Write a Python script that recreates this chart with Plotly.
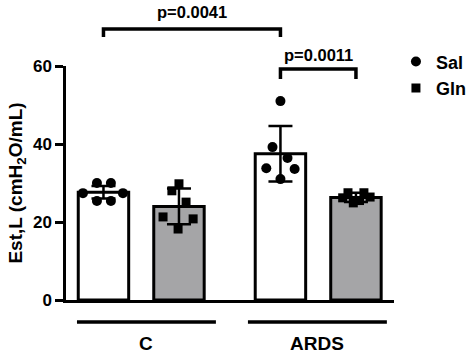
import plotly.graph_objects as go

# ---- data ----
groups = ["C", "ARDS"]
treatments = ["Sal", "Gln"]
means_sal = [27.6, 37.5]
means_gln = [24.0, 26.3]
sd_sal = [1.6, 7.1]
sd_gln = [4.6, 1.2]

pts_sal_C = [30.0, 30.0, 27.4, 27.4, 25.4, 25.4]
pts_gln_C = [29.8, 28.0, 25.1, 21.3, 20.8, 18.2]
pts_sal_ARDS = [51.0, 39.2, 36.4, 33.8, 33.6, 31.0]
pts_gln_ARDS = [27.5, 27.5, 26.2, 26.4, 24.9, 25.5]

# horizontal spread of dots (fraction of a group slot)
jit_sal_C = [-0.037, 0.042, -0.116, 0.110, -0.037, 0.042]
jit_gln_C = [0.0, -0.040, 0.040, -0.090, 0.080, -0.005]
jit_sal_ARDS = [0.0, -0.045, 0.040, -0.080, 0.080, 0.0]
jit_gln_ARDS = [-0.045, 0.045, -0.075, 0.080, -0.015, 0.020]

p_values = ["p=0.0041", "p=0.0011"]

# ---- layout helpers ----
gpos = [0, 1]          # group centers on numeric x axis
off = 0.2133           # bar offset from group center
bw = 0.285             # bar width

x_sal = [g - off for g in gpos]
x_gln = [g + off for g in gpos]

BOLD = "Liberation Sans"
fig = go.Figure()

fig.add_trace(go.Bar(
    x=x_sal, y=means_sal, width=bw,
    marker=dict(color="white", line=dict(color="black", width=3)),
    error_y=dict(type="data", array=sd_sal, color="black", thickness=2.5, width=12),
    showlegend=False, hoverinfo="skip"))
fig.add_trace(go.Bar(
    x=x_gln, y=means_gln, width=bw,
    marker=dict(color="#a5a5a7", line=dict(color="black", width=3)),
    error_y=dict(type="data", array=sd_gln, color="black", thickness=2.5, width=12),
    showlegend=False, hoverinfo="skip"))

sal_x = [x_sal[0] + j for j in jit_sal_C] + [x_sal[1] + j for j in jit_sal_ARDS]
sal_y = pts_sal_C + pts_sal_ARDS
gln_x = [x_gln[0] + j for j in jit_gln_C] + [x_gln[1] + j for j in jit_gln_ARDS]
gln_y = pts_gln_C + pts_gln_ARDS

fig.add_trace(go.Scatter(
    x=sal_x, y=sal_y, mode="markers", name=treatments[0],
    marker=dict(symbol="circle", size=10, color="black"), cliponaxis=False))
fig.add_trace(go.Scatter(
    x=gln_x, y=gln_y, mode="markers", name=treatments[1],
    marker=dict(symbol="square", size=9, color="black"), cliponaxis=False))

# ---- significance brackets ----
lw = 3.5
def bracket(x0, x1, ytop, ybot):
    fig.add_shape(type="path", xref="x", yref="paper",
                  path=f"M {x0},{ybot} L {x0},{ytop} L {x1},{ytop} L {x1},{ybot}",
                  line=dict(color="black", width=lw))

bracket(x_sal[0], x_sal[1], 1.158, 1.124)
bracket(x_sal[1], x_gln[1], 0.987, 0.944)
fig.add_annotation(x=(x_sal[0] + x_sal[1]) / 2, y=1.231, xref="x", yref="paper",
                   xanchor="center", yanchor="middle",
                   text=f"<b>{p_values[0]}</b>", showarrow=False,
                   font=dict(family=BOLD, size=16.5, color="black"))
fig.add_annotation(x=(x_sal[1] + x_gln[1]) / 2, y=1.047, xref="x", yref="paper",
                   xanchor="center", yanchor="middle",
                   text=f"<b>{p_values[1]}</b>", showarrow=False,
                   font=dict(family=BOLD, size=16.5, color="black"))

# ---- group lines and labels ----
glines = [(-0.363, 0.422), (0.603, 1.388)]
for (a, b), name in zip(glines, groups):
    fig.add_shape(type="line", xref="x", yref="paper", x0=a, x1=b, y0=-0.094, y1=-0.094,
                  line=dict(color="black", width=3.5))
    fig.add_annotation(x=(a + b) / 2, y=-0.184, xref="x", yref="paper",
                       xanchor="center", yanchor="middle",
                       text=f"<b>{name}</b>", showarrow=False,
                       font=dict(family=BOLD, size=19, color="black"))

fig.update_layout(
    width=474, height=356,
    margin=dict(l=66, r=10, t=66, b=56, autoexpand=False),
    plot_bgcolor="white", paper_bgcolor="white",
    barmode="overlay",
    font=dict(family=BOLD, color="black", size=16, weight="bold"),
    legend=dict(x=0.829, y=1.097, xanchor="left", yanchor="top",
                font=dict(family=BOLD, size=18, weight="bold"),
                tracegroupgap=0, itemwidth=30, bgcolor="rgba(0,0,0,0)"),
    xaxis=dict(domain=[0, 0.824], range=[-0.425, 1.428], showline=True,
               linecolor="black", linewidth=2.5,
               showticklabels=False, ticks="", showgrid=False, zeroline=False),
    yaxis=dict(range=[0, 60], dtick=20, showline=True, linecolor="black", linewidth=2.5,
               ticks="outside", ticklen=8, tickwidth=2.5, tickcolor="black",
               showgrid=False, zeroline=False,
               tickfont=dict(family=BOLD, size=17, weight="bold"),
               title=dict(text="Est,L (cmH<sub>2</sub>O/mL)", standoff=6,
                          font=dict(family=BOLD, size=19, weight="bold"))),
)

fig.write_html("out.html")
